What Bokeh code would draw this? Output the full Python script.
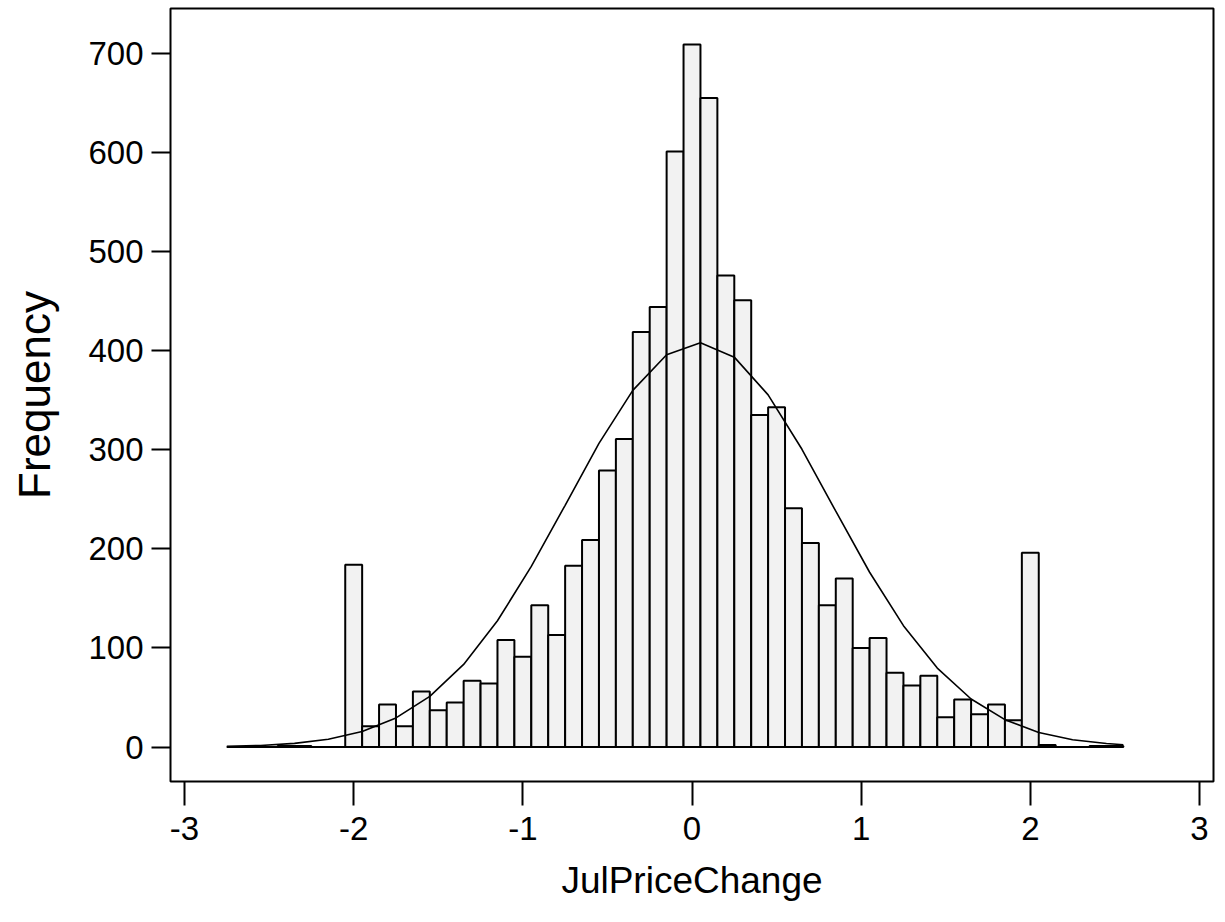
from bokeh.plotting import figure
from bokeh.models import Range1d, FixedTicker
from bokeh.embed import file_html
from bokeh.resources import INLINE

# Histogram bins (centers) and frequencies
bin_centers = [-2.7, -2.6, -2.5, -2.4, -2.3, -2.2, -2.1,
               -2.0, -1.9, -1.8, -1.7, -1.6, -1.5, -1.4, -1.3, -1.2, -1.1,
               -1.0, -0.9, -0.8, -0.7, -0.6, -0.5, -0.4, -0.3, -0.2, -0.1,
               0.0, 0.1, 0.2, 0.3, 0.4, 0.5, 0.6, 0.7, 0.8, 0.9,
               1.0, 1.1, 1.2, 1.3, 1.4, 1.5, 1.6, 1.7, 1.8, 1.9,
               2.0, 2.1, 2.2, 2.3, 2.4, 2.5]
counts = [0, 0, 0, 1, 1, 0, 0,
          184, 21, 43, 21, 56, 37, 45, 67, 64, 108,
          91, 143, 113, 183, 209, 279, 311, 419, 444, 601,
          709, 655, 476, 451, 335, 343, 241, 206, 143, 170,
          100, 110, 75, 62, 72, 30, 48, 33, 43, 27,
          196, 2, 0, 0, 1, 1]
bin_width = 0.1

# Fitted normal curve
curve_x = [-2.75, -2.55, -2.35, -2.15, -1.95, -1.75, -1.55, -1.35, -1.15, -0.95,
           -0.75, -0.55, -0.35, -0.15, 0.05, 0.25, 0.45, 0.65, 0.85, 1.05,
           1.25, 1.45, 1.65, 1.85, 2.05, 2.25, 2.45, 2.55]
curve_y = [0.7, 1.6, 3.7, 7.9, 15.7, 29.4, 51.1, 83.4, 127.4, 182.3,
           244, 306.5, 360, 396, 408, 393.5, 355.4, 300.5, 238, 176.4,
           122.5, 79.7, 48.5, 27.6, 14.7, 7.4, 3.5, 2.3]

x_ticks = [-3, -2, -1, 0, 1, 2, 3]
x_tick_labels = ["-3", "-2", "-1", "0", "1", "2", "3"]
y_ticks = [0, 100, 200, 300, 400, 500, 600, 700]

FONT = "Liberation Sans"

p = figure(width=1225, height=922, output_backend="svg", toolbar_location=None,
           x_range=Range1d(-3.083, 3.083), y_range=Range1d(-34.8, 745.4),
           min_border_left=170, min_border_right=12, min_border_top=8,
           min_border_bottom=141)

p.vbar(x=bin_centers, width=bin_width, top=counts, bottom=0,
       fill_color="#f2f2f2", line_color="black", line_width=2)
p.line([bin_centers[0] - bin_width / 2, bin_centers[-1] + bin_width / 2], [0, 0],
       line_color="black", line_width=2)
p.line(curve_x, curve_y, line_color="black", line_width=1.6)

p.grid.visible = False
p.outline_line_color = "black"
p.outline_line_width = 2
p.background_fill_color = "white"
p.border_fill_color = "white"

p.xaxis.ticker = FixedTicker(ticks=x_ticks)
p.xaxis.major_label_overrides = dict(zip(x_ticks, x_tick_labels))
p.yaxis.ticker = FixedTicker(ticks=y_ticks)
for ax in (p.xaxis, p.yaxis):
    ax.axis_line_color = None
    ax.major_tick_line_color = "black"
    ax.major_tick_line_width = 2
    ax.major_tick_in = 0
    ax.minor_tick_line_color = None
    ax.major_label_text_font = FONT
    ax.major_label_text_color = "black"
    ax.major_label_text_font_size = "33px"
    ax.axis_label_text_font = FONT
    ax.axis_label_text_font_style = "normal"
    ax.axis_label_text_color = "black"

p.xaxis.major_tick_out = 24
p.yaxis.major_tick_out = 19
p.xaxis.major_label_standoff = 11
p.yaxis.major_label_standoff = 8
p.xaxis.axis_label = "JulPriceChange"
p.yaxis.axis_label = "Frequency"
p.xaxis.axis_label_text_font_size = "37px"
p.yaxis.axis_label_text_font_size = "44px"
p.xaxis.axis_label_standoff = 17
p.yaxis.axis_label_standoff = 26

open("out.html", "w").write(file_html(p, INLINE))
